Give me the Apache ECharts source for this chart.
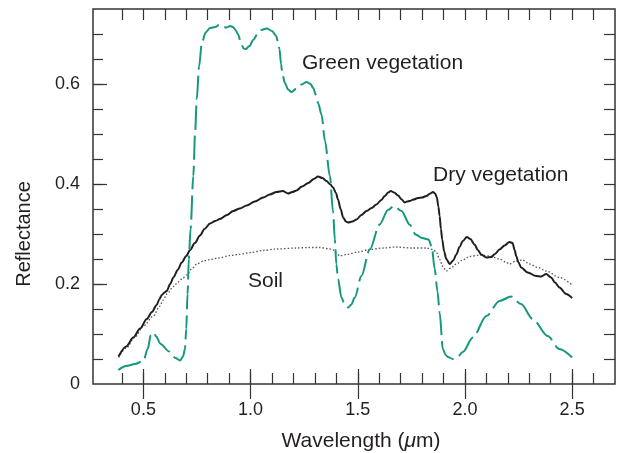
<!DOCTYPE html>
<html>
<head>
<meta charset="utf-8">
<script src="https://cdn.jsdelivr.net/npm/echarts@6/dist/echarts.min.js"></script>
<style>
  html, body { margin: 0; padding: 0; background: #fff; }
  #main { width: 617px; height: 453px; }
</style>
</head>
<body>
<div id="main"></div>
<script>
var chartDom = document.getElementById('main');
var myChart = echarts.init(chartDom);

// wavelength (um), reflectance
var greenVeg = [
  [0.383, 0.028], [0.42, 0.036], [0.46, 0.040], [0.5, 0.046], [0.52, 0.07], [0.535, 0.098],
  [0.547, 0.103], [0.56, 0.095], [0.58, 0.08], [0.62, 0.065], [0.65, 0.052], [0.671, 0.047],
  [0.685, 0.055], [0.694, 0.07], [0.70, 0.11], [0.706, 0.18], [0.712, 0.25], [0.72, 0.31],
  [0.733, 0.416], [0.741, 0.5], [0.749, 0.57], [0.76, 0.635], [0.772, 0.68], [0.79, 0.703],
  [0.811, 0.712], [0.835, 0.714], [0.854, 0.718], [0.872, 0.714], [0.888, 0.713], [0.905, 0.716],
  [0.918, 0.714], [0.93, 0.708], [0.942, 0.699], [0.955, 0.682], [0.968, 0.671], [0.978, 0.670],
  [0.995, 0.676], [1.012, 0.688], [1.031, 0.699], [1.05, 0.708], [1.075, 0.711], [1.1, 0.706],
  [1.118, 0.697], [1.128, 0.685], [1.135, 0.67], [1.142, 0.64], [1.149, 0.619], [1.16, 0.602],
  [1.175, 0.589], [1.191, 0.584], [1.215, 0.591], [1.238, 0.599], [1.261, 0.604], [1.28, 0.6],
  [1.292, 0.592], [1.305, 0.578], [1.315, 0.562], [1.331, 0.539], [1.347, 0.486], [1.37, 0.416],
  [1.385, 0.343], [1.393, 0.289], [1.40, 0.24], [1.408, 0.21], [1.424, 0.173], [1.44, 0.158],
  [1.455, 0.153], [1.47, 0.159], [1.486, 0.173], [1.517, 0.216], [1.556, 0.269], [1.602, 0.319],
  [1.641, 0.348], [1.669, 0.356], [1.704, 0.346], [1.742, 0.319], [1.77, 0.299], [1.80, 0.292],
  [1.83, 0.289], [1.845, 0.275], [1.859, 0.23], [1.872, 0.185], [1.882, 0.143], [1.897, 0.07],
  [1.91, 0.058], [1.92, 0.054], [1.944, 0.05], [1.965, 0.054], [1.99, 0.064], [2.037, 0.093],
  [2.1, 0.136], [2.161, 0.166], [2.216, 0.175], [2.262, 0.16], [2.316, 0.13], [2.386, 0.096],
  [2.44, 0.07], [2.5, 0.053]
];

var dryVeg = [
  [0.384, 0.055], [0.42, 0.075], [0.453, 0.093], [0.485, 0.111], [0.516, 0.13], [0.54, 0.144],
  [0.562, 0.158], [0.575, 0.17], [0.586, 0.178], [0.598, 0.183], [0.609, 0.186], [0.625, 0.2],
  [0.64, 0.213], [0.66, 0.228], [0.679, 0.243], [0.70, 0.256], [0.718, 0.268], [0.74, 0.282],
  [0.764, 0.297], [0.785, 0.31], [0.811, 0.321], [0.835, 0.326], [0.857, 0.330], [0.89, 0.338],
  [0.919, 0.346], [0.95, 0.351], [0.982, 0.357], [1.02, 0.365], [1.059, 0.373], [1.09, 0.379],
  [1.121, 0.384], [1.15, 0.386], [1.175, 0.381], [1.195, 0.384], [1.214, 0.387], [1.24, 0.395],
  [1.269, 0.402], [1.295, 0.41], [1.315, 0.415], [1.335, 0.412], [1.354, 0.406], [1.372, 0.399],
  [1.385, 0.393], [1.398, 0.382], [1.408, 0.369], [1.42, 0.35], [1.432, 0.333], [1.445, 0.325],
  [1.455, 0.323], [1.475, 0.325], [1.494, 0.329], [1.517, 0.338], [1.541, 0.346], [1.565, 0.352],
  [1.587, 0.359], [1.61, 0.368], [1.626, 0.376], [1.642, 0.383], [1.654, 0.386], [1.67, 0.383],
  [1.688, 0.377], [1.705, 0.369], [1.719, 0.363], [1.73, 0.365], [1.742, 0.366], [1.76, 0.369],
  [1.781, 0.372], [1.80, 0.373], [1.82, 0.376], [1.838, 0.381], [1.851, 0.384], [1.861, 0.381],
  [1.869, 0.373], [1.876, 0.355], [1.882, 0.336], [1.888, 0.31], [1.894, 0.289], [1.903, 0.265],
  [1.913, 0.25], [1.929, 0.24], [1.945, 0.247], [1.96, 0.259], [1.975, 0.274], [1.99, 0.286],
  [2.009, 0.294], [2.025, 0.29], [2.045, 0.279], [2.06, 0.268], [2.076, 0.259], [2.1, 0.253],
  [2.123, 0.254], [2.14, 0.26], [2.161, 0.269], [2.185, 0.277], [2.208, 0.284], [2.222, 0.282],
  [2.232, 0.268], [2.239, 0.256], [2.25, 0.243], [2.262, 0.233], [2.293, 0.223], [2.332, 0.216],
  [2.356, 0.215], [2.379, 0.22], [2.402, 0.213], [2.42, 0.203], [2.441, 0.193], [2.472, 0.18],
  [2.5, 0.172]
];

var soil = [
  [0.384, 0.053], [0.42, 0.072], [0.461, 0.094], [0.50, 0.116], [0.547, 0.136], [0.575, 0.155],
  [0.593, 0.168], [0.61, 0.18], [0.64, 0.195], [0.662, 0.204], [0.685, 0.212], [0.702, 0.218],
  [0.725, 0.23], [0.749, 0.24], [0.78, 0.246], [0.811, 0.249], [0.85, 0.252], [0.904, 0.257],
  [0.942, 0.259], [1.0, 0.263], [1.059, 0.267], [1.12, 0.27], [1.214, 0.272], [1.27, 0.273],
  [1.323, 0.273], [1.37, 0.27], [1.385, 0.268], [1.40, 0.262], [1.416, 0.256], [1.447, 0.259],
  [1.5, 0.264], [1.556, 0.269], [1.62, 0.272], [1.68, 0.274], [1.75, 0.272], [1.82, 0.272],
  [1.851, 0.269], [1.866, 0.264], [1.882, 0.249], [1.897, 0.235], [1.913, 0.226], [1.935, 0.232],
  [1.96, 0.24], [1.99, 0.248], [2.021, 0.255], [2.068, 0.258], [2.115, 0.256], [2.161, 0.25],
  [2.19, 0.244], [2.208, 0.24], [2.239, 0.246], [2.268, 0.248], [2.301, 0.24], [2.34, 0.233],
  [2.379, 0.226], [2.441, 0.213], [2.5, 0.198]
];

// tick positions
var xMajor = [0.5, 1.0, 1.5, 2.0, 2.5];
var xMinor = [0.4, 0.5, 0.6, 0.7, 0.8, 0.9, 1.0, 1.1, 1.2, 1.3, 1.4, 1.5, 1.6, 1.7,
  1.8, 1.9, 2.0, 2.1, 2.2, 2.3, 2.4, 2.5, 2.6];
var yMajor = [0, 0.2, 0.4, 0.6];
var yMinor = [0.05, 0.1, 0.15, 0.2, 0.25, 0.3, 0.35, 0.4, 0.45, 0.5, 0.55, 0.6, 0.65, 0.7];

var FONT = '"Liberation Sans", Arial, sans-serif';
var INK = '#231f20';
var tickStyle = { color: '#333', width: 1.2 };

function xAx(pos, values, len, withLabel) {
  var ax = {
    type: 'value', position: pos, min: 0.265, max: 2.7,
    axisLine: { show: false },
    splitLine: { show: false },
    axisTick: { show: true, inside: true, length: len, customValues: values, lineStyle: tickStyle },
    axisLabel: { show: false }
  };
  if (withLabel) {
    ax.axisLabel = {
      show: true, customValues: xMajor, margin: 17, fontSize: 18, fontFamily: FONT, color: INK,
      formatter: function (v) { return v.toFixed(1); }
    };
  }
  return ax;
}

function yAx(pos, values, len, withLabel) {
  var ax = {
    type: 'value', position: pos, min: 0, max: 0.75,
    axisLine: { show: false },
    splitLine: { show: false },
    axisTick: { show: true, inside: true, length: len, customValues: values, lineStyle: tickStyle },
    axisLabel: { show: false }
  };
  if (withLabel) {
    ax.axisLabel = {
      show: true, customValues: yMajor, margin: 13, fontSize: 18, fontFamily: FONT, color: INK,
      formatter: function (v) { return v === 0 ? '0' : v.toFixed(1); }
    };
  }
  return ax;
}

var option = {
  animation: false,
  backgroundColor: '#fff',
  grid: {
    left: 93, right: 2, top: 9, bottom: 69,
    show: true, borderColor: '#333', borderWidth: 1.5, backgroundColor: 'transparent'
  },
  xAxis: [
    xAx('bottom', xMajor, 15, true),
    xAx('bottom', xMinor, 11, false),
    xAx('top', xMajor, 15, false),
    xAx('top', xMinor, 11, false)
  ],
  yAxis: [
    yAx('left', yMajor.slice(1), 14, true),
    yAx('left', yMinor, 10, false),
    yAx('right', yMinor, 11, false)
  ],
  series: [
    {
      name: 'Soil', type: 'line', data: soil, symbol: 'none',
      smooth: 0.3, smoothMonotone: 'x',
      lineStyle: { color: '#555', width: 1.3, type: [1.5, 2] }
    },
    {
      name: 'Dry vegetation', type: 'line', data: dryVeg, symbol: 'none',
      smooth: 0.3, smoothMonotone: 'x',
      lineStyle: { color: '#1f1f1f', width: 2 }
    },
    {
      name: 'Green vegetation', type: 'line', data: greenVeg, symbol: 'none',
      smooth: 0.3, smoothMonotone: 'x',
      lineStyle: { color: '#16977f', width: 2, type: [24, 6] }
    }
  ],
  graphic: [
    { type: 'text', style: { x: 302, y: 63, text: 'Green vegetation', font: '21px ' + FONT, fill: INK, verticalAlign: 'middle' } },
    { type: 'text', style: { x: 433, y: 175, text: 'Dry vegetation', font: '21px ' + FONT, fill: INK, verticalAlign: 'middle' } },
    { type: 'text', style: { x: 248, y: 281, text: 'Soil', font: '21px ' + FONT, fill: INK, verticalAlign: 'middle' } },
    {
      type: 'text', x: 24, y: 234, rotation: Math.PI / 2,
      style: { x: 0, y: 0, text: 'Reflectance', font: '20px ' + FONT, fill: INK, align: 'center', verticalAlign: 'middle' }
    },
    {
      type: 'text', x: 361, y: 441,
      style: {
        x: 0, y: 0, text: '{n|Wavelength (}{i|\u03bc}{n|m)}', align: 'center', verticalAlign: 'middle',
        rich: {
          n: { fontSize: 21, fontFamily: FONT, fill: INK },
          i: { fontSize: 21, fontFamily: FONT, fill: INK, fontStyle: 'italic' }
        }
      }
    }
  ]
};

myChart.setOption(option);
</script>
</body>
</html>
